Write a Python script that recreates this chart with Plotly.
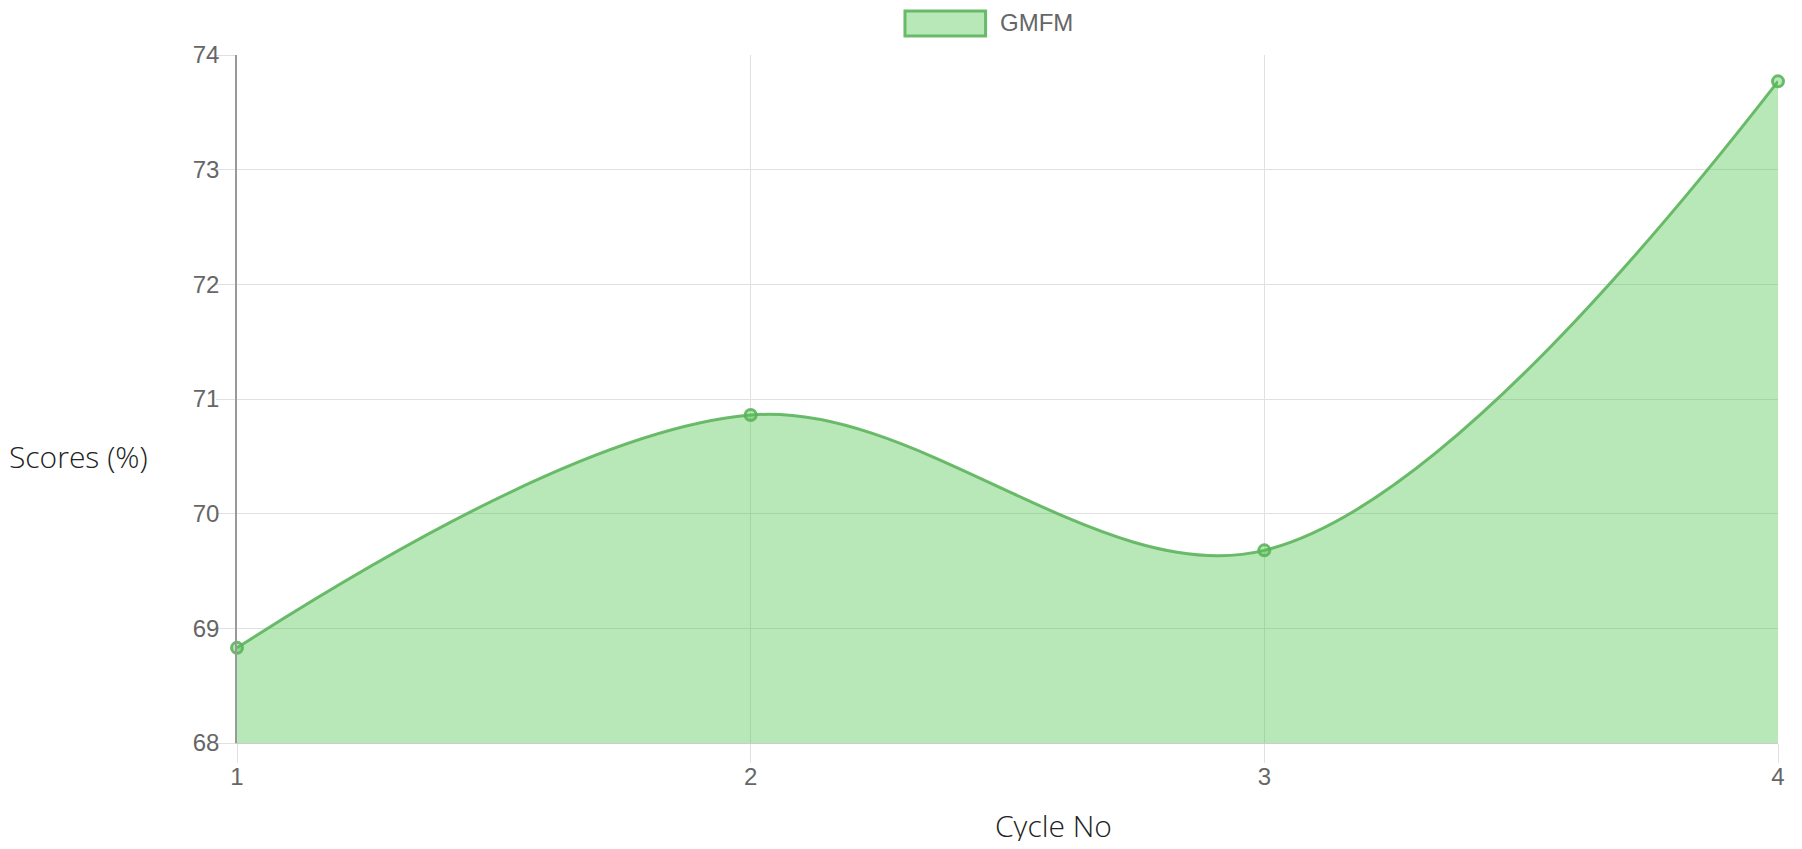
import plotly.graph_objects as go

cycles = [1, 2, 3, 4]
gmfm = [68.83, 70.86, 69.68, 73.77]
y_ticks = [68, 69, 70, 71, 72, 73, 74]
series_name = "GMFM"

# the page body keeps its default 8px margin; figure origin sits at (8, 8)
OFF = 8
W, H = 1786, 833
L, R, T, B = 237 - OFF, 9, 55 - OFF, 98

line_col = "rgba(92,180,92,0.9)"
fill_col = "rgba(77,195,77,0.4)"

fig = go.Figure()
fig.add_trace(go.Scatter(
    x=cycles, y=gmfm, mode="lines+markers", name=series_name,
    line=dict(color=line_col, width=3, shape="spline", smoothing=1.0),
    marker=dict(size=11, color="rgba(77,195,77,0.4)", line=dict(color=line_col, width=3)),
    fill="tozeroy", fillcolor=fill_col, showlegend=False, cliponaxis=False,
))

tick_font = dict(family="Liberation Sans, Arial, sans-serif", size=24, color="#666666")
fig.update_xaxes(
    range=[1, 4], tickvals=cycles, ticktext=[str(c) for c in cycles],
    showgrid=True, gridcolor="#e0e0e0", gridwidth=1,
    ticks="outside", ticklen=19, tickcolor="#e0e0e0", tickwidth=1,
    showline=True, linecolor="#cccccc", linewidth=1,
    tickfont=tick_font, zeroline=False, ticklabelstandoff=-7,
)
fig.update_yaxes(
    range=[68, 74], tickvals=y_ticks,
    showgrid=True, gridcolor="#e0e0e0", gridwidth=1,
    ticks="outside", ticklen=19, tickcolor="#e0e0e0", tickwidth=1,
    showline=True, linecolor="#999999", linewidth=1.5,
    tickfont=tick_font, zeroline=False, ticklabelstandoff=-8,
)

title_font = dict(family="Open Sans, sans-serif", size=30, color="#222222", weight=300)
pw = W - L - R
ph = H - T - B

def px_x(x):
    return (x - OFF - L) / pw

def px_y(y):
    return (H - B - (y - OFF)) / ph

fig.add_annotation(text="Scores (%)", xref="paper", yref="paper",
                   x=px_x(78), y=px_y(456), showarrow=False,
                   xanchor="center", yanchor="middle", font=title_font)
fig.add_annotation(text="Cycle No", xref="paper", yref="paper",
                   x=px_x(1057), y=px_y(825), showarrow=False,
                   xanchor="center", yanchor="middle", font=title_font)

# legend
fig.add_shape(type="rect", xref="paper", yref="paper",
              x0=px_x(908), x1=px_x(989), y0=px_y(36), y1=px_y(11),
              fillcolor=fill_col, line=dict(color=line_col, width=3))
fig.add_annotation(text=series_name, xref="paper", yref="paper",
                   x=px_x(1001), y=px_y(23), showarrow=False,
                   xanchor="left", yanchor="middle",
                   font=dict(family="Liberation Sans, Arial, sans-serif", size=24, color="#666666"))

fig.update_layout(
    width=W, height=H,
    margin=dict(l=L, r=R, t=T, b=B, pad=0),
    plot_bgcolor="white", paper_bgcolor="white",
    showlegend=False,
)

fig.write_html("out.html")
